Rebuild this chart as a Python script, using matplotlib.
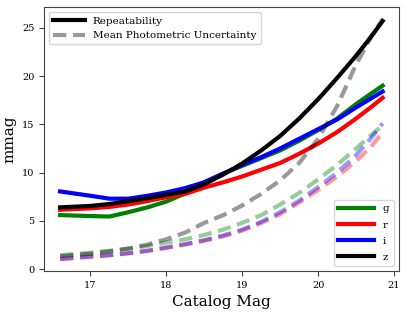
import numpy as np
import matplotlib
matplotlib.use("Agg")
import matplotlib.pyplot as plt
from matplotlib.lines import Line2D

plt.rcParams['font.family'] = ['DejaVu Serif']

# catalog magnitude grid
mag = [16.6, 17.0, 17.25, 17.5, 17.75, 18.0, 18.25, 18.5, 18.75, 19.0,
       19.25, 19.5, 19.75, 20.0, 20.25, 20.5, 20.7, 20.85]

bands = ['g', 'r', 'i', 'z']
colors = ['green', 'red', 'blue', 'black']

# repeatability (mmag)
rep_g = [5.6, 5.5, 5.45, 5.9, 6.4, 7.0, 7.85, 9.0, 9.9, 10.7, 11.5, 12.3, 13.3, 14.4, 15.6, 17.1, 18.2, 19.0]
rep_r = [6.15, 6.3, 6.45, 6.7, 7.05, 7.45, 7.8, 8.45, 9.0, 9.6, 10.3, 11.0, 11.95, 13.0, 14.2, 15.6, 16.8, 17.75]
rep_i = [8.05, 7.6, 7.3, 7.3, 7.6, 7.95, 8.4, 9.0, 9.9, 10.8, 11.6, 12.5, 13.5, 14.5, 15.5, 16.75, 17.7, 18.4]
rep_z = [6.4, 6.55, 6.75, 7.05, 7.35, 7.7, 8.05, 8.8, 9.8, 10.95, 12.3, 13.8, 15.6, 17.6, 19.8, 22.1, 24.1, 25.7]

# mean photometric uncertainty (mmag)
unc_g = [1.45, 1.7, 1.9, 2.1, 2.4, 2.75, 3.1, 3.55, 4.1, 4.8, 5.6, 6.7, 7.9, 9.3, 10.8, 12.5, 13.9, 14.9]
unc_r = [1.05, 1.3, 1.45, 1.65, 1.9, 2.2, 2.55, 2.95, 3.4, 4.0, 4.8, 5.7, 6.9, 8.2, 9.6, 11.2, 12.7, 14.2]
unc_i = [1.05, 1.3, 1.45, 1.65, 1.9, 2.25, 2.6, 3.0, 3.5, 4.1, 4.9, 5.9, 7.1, 8.5, 10.0, 11.8, 13.6, 15.1]
unc_z = [1.35, 1.6, 1.85, 2.15, 2.55, 3.1, 3.8, 4.8, 5.6, 6.6, 7.8, 9.2, 11.0, 13.5, 16.9, 21.2, 24.1, 25.9]

rep = [rep_g, rep_r, rep_i, rep_z]
unc = [unc_g, unc_r, unc_i, unc_z]

fig, ax = plt.subplots(figsize=(4.15, 3.2), dpi=100)
fig.subplots_adjust(left=0.106, right=0.961, top=0.978, bottom=0.153)

for b, c, yr, yu in zip(bands, colors, rep, unc):
    ax.plot(mag, yr, color=c, lw=3, solid_joinstyle='round')
    ax.plot(mag, yu, color=c, lw=3, alpha=0.4, dashes=(3.2, 1.6))

h1 = [Line2D([], [], color='black', lw=3),
      Line2D([], [], color='black', lw=3, alpha=0.4, dashes=(3.2, 1.6))]
leg1 = ax.legend(h1, ['Repeatability', 'Mean Photometric Uncertainty'],
                 loc='upper left', fontsize=7.5, handlelength=3.0)
ax.add_artist(leg1)

h2 = [Line2D([], [], color=c, lw=3) for c in colors]
ax.legend(h2, bands, loc='lower right', fontsize=7.5, handlelength=3.5,
          labelspacing=0.65)

ax.set_xlabel('Catalog Mag', fontsize=11)
ax.set_ylabel('mmag', fontsize=11)
ax.tick_params(labelsize=7, length=3.5, color='#444444')
for s in ax.spines.values():
    s.set_color('#444444')

fig.savefig('out.png')
